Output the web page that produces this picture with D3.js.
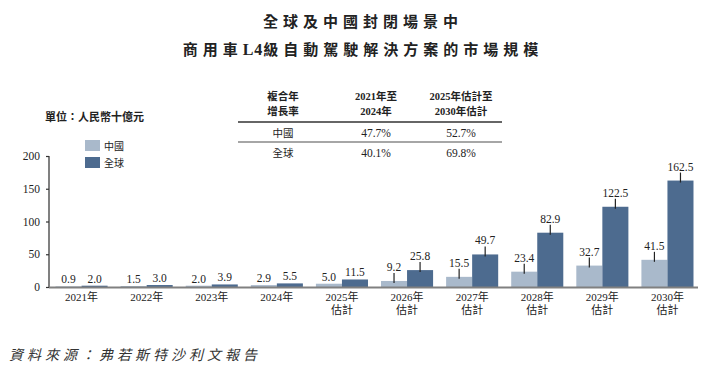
<!DOCTYPE html>
<html><head><meta charset="utf-8">
<script src="https://cdn.jsdelivr.net/npm/d3@7"></script>
<style>
body{margin:0;background:#fff;}
svg{display:block;}
.cjk{font-family:"Noto Sans CJK TC","Noto Sans CJK SC",sans-serif;}
</style></head>
<body>
<script>
const titleLines = ["全球及中國封閉場景中", "商用車L4級自動駕駛解決方案的市場規模"];
const unitLabel = "單位：人民幣十億元";
const categories = [["2021年"],["2022年"],["2023年"],["2024年"],["2025年","估計"],["2026年","估計"],["2027年","估計"],["2028年","估計"],["2029年","估計"],["2030年","估計"]];
const seriesNames = ["中國", "全球"];
const chinaValues = [0.9, 1.5, 2.0, 2.9, 5.0, 9.2, 15.5, 23.4, 32.7, 41.5];
const globalValues = [2.0, 3.0, 3.9, 5.5, 11.5, 25.8, 49.7, 82.9, 122.5, 162.5];
const yTicks = [0, 50, 100, 150, 200];
const tableHeader = [["複合年","增長率"], ["2021年至","2024年"], ["2025年估計至","2030年估計"]];
const tableRows = [["中國","47.7%","52.7%"], ["全球","40.1%","69.8%"]];
const sourceText = "資料來源：弗若斯特沙利文報告";
const colors = ["#a9b9cb", "#4d6b8f"];

const W = 725, H = 375;
const svg = d3.select("body").append("svg").attr("width", W).attr("height", H);

// Title (Latin runs in a serif face with tighter spacing)
titleLines.forEach((t, i) => {
  const txt = svg.append("text").attr("class","cjk").attr("x", 363).attr("y", 27 + i*28)
    .attr("text-anchor","middle").attr("font-size", 15).attr("font-weight", 700)
    .attr("fill","#222");
  const parts = t.split(/([A-Za-z0-9]+)/).filter(p => p.length);
  parts.forEach(p => {
    const latin = /^[A-Za-z0-9]+$/.test(p);
    const ts = txt.append("tspan").text(p);
    if (latin) ts.style("font-family",'"Liberation Serif",serif').attr("font-size",16).attr("letter-spacing","1px").attr("dx", 0);
    else ts.attr("letter-spacing","5px");
  });
});

// Unit
svg.append("text").attr("class","cjk").attr("x", 45).attr("y", 121)
  .attr("font-size", 11).attr("font-weight", 700).attr("fill","#222").text(unitLabel);

// Legend
seriesNames.forEach((n, i) => {
  svg.append("rect").attr("x", 85).attr("y", 140 + i*17).attr("width", 15).attr("height", 11).attr("fill", colors[i]);
  svg.append("text").attr("class","cjk").attr("x", 104).attr("y", 150 + i*17)
    .attr("font-size", 10).attr("fill","#222").text(n);
});

// Table
const colX = [283, 376, 461];
tableHeader.forEach((lines, c) => {
  lines.forEach((l, j) => {
    svg.append("text").attr("x", colX[c]).attr("y", 100 + j*15).attr("text-anchor","middle")
      .attr("font-size", 10.5).attr("font-weight", 700).attr("fill","#222")
      .style("font-family", '"Liberation Serif","Noto Sans CJK TC",serif').text(l);
  });
});
svg.append("line").attr("x1", 238).attr("x2", 502).attr("y1", 122).attr("y2", 122).attr("stroke","#333").attr("stroke-width",1.3);
svg.append("line").attr("x1", 238).attr("x2", 502).attr("y1", 142).attr("y2", 142).attr("stroke","#888").attr("stroke-width",1.3);
tableRows.forEach((r, i) => {
  r.forEach((v, c) => {
    svg.append("text").attr("x", colX[c]).attr("y", 137 + i*20).attr("text-anchor","middle")
      .attr("font-size", c === 0 ? 10.5 : 11.5).attr("fill","#222")
      .style("font-family", c === 0 ? '"Noto Sans CJK TC",sans-serif' : '"Liberation Serif",serif').text(v);
  });
});

// Scales
const x = d3.scaleBand().domain(d3.range(categories.length)).range([49, 700]).paddingInner(0.2).paddingOuter(0.1);
const xs = d3.scaleBand().domain([0,1]).range([0, x.bandwidth()]);
const y = d3.scaleLinear().domain([0, 200]).range([287, 156]);

// Y axis
const yAxis = svg.append("g").attr("transform","translate(49,0)")
  .call(d3.axisLeft(y).tickValues(yTicks).tickSize(3).tickPadding(6));
yAxis.select(".domain").attr("stroke","#808080").attr("stroke-width",2).attr("d","M0,156V288");
yAxis.selectAll(".tick line").attr("stroke","#333").attr("stroke-width",1.2);
yAxis.selectAll(".tick text").attr("font-size",11.5).attr("fill","#222")
  .style("font-family",'"Liberation Serif",serif');

// Bars
const series = [chinaValues, globalValues];
series.forEach((vals, s) => {
  svg.append("g").selectAll("rect").data(vals).join("rect")
    .attr("x", (d, i) => x(i) + xs(s))
    .attr("y", d => y(d))
    .attr("width", xs.bandwidth())
    .attr("height", d => y(0) - y(d))
    .attr("fill", colors[s]);
});

// Baseline
svg.append("line").attr("x1", 49).attr("x2", 698).attr("y1", 287.5).attr("y2", 287.5)
  .attr("stroke","#808080").attr("stroke-width",2);

// Value labels
series.forEach((vals, s) => {
  vals.forEach((d, i) => {
    const cx = x(i) + xs(s) + xs.bandwidth()/2;
    const top = y(d);
    const leader = i >= 5;
    if (leader) {
      svg.append("line").attr("x1", cx).attr("x2", cx).attr("y1", top - 8).attr("y2", top + 2)
        .attr("stroke","#222").attr("stroke-width",1.2);
    }
    svg.append("text").attr("x", cx).attr("y", leader ? top - 10 : top - 3)
      .attr("text-anchor","middle").attr("font-size", 11.5).attr("fill","#222")
      .style("font-family",'"Liberation Serif",serif').text(d.toFixed(1));
  });
});

// X labels
categories.forEach((lines, i) => {
  const cx = x(i) + x.bandwidth()/2;
  lines.forEach((l, j) => {
    svg.append("text").attr("x", cx).attr("y", 301 + j*12.5).attr("text-anchor","middle")
      .attr("font-size", 11).attr("fill","#222")
      .style("font-family", '"Liberation Serif","Noto Sans CJK TC",serif').text(l);
  });
});

// Source
svg.append("text").attr("x", 9).attr("y", 360).attr("font-size", 14).attr("font-style","italic")
  .attr("letter-spacing","4px").attr("fill","#333")
  .style("font-family",'"Noto Sans CJK TC",sans-serif').text(sourceText);
</script>
</body></html>
